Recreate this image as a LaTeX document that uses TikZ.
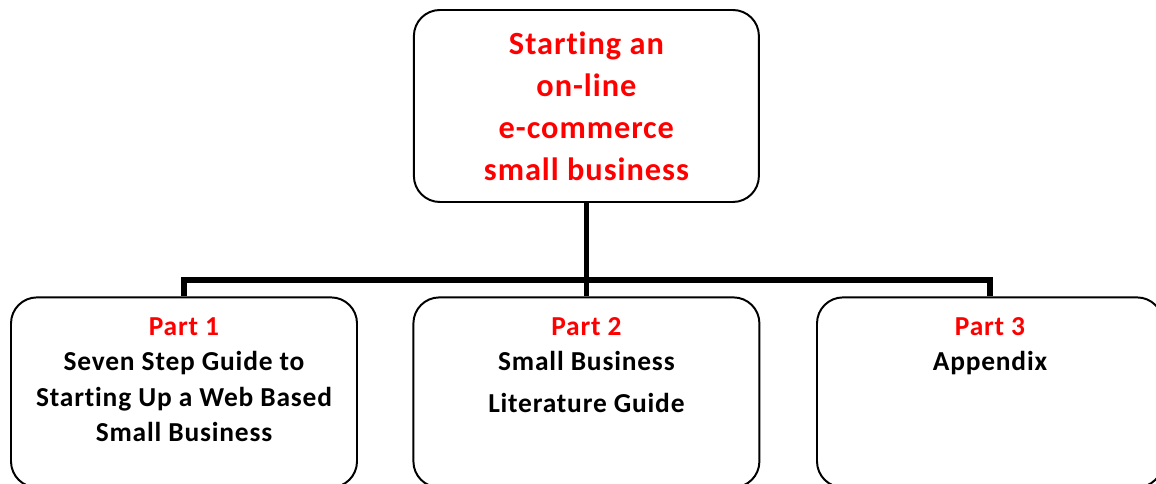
\documentclass[tikz,border=0pt]{standalone}
\usepackage{fontspec}
\setmainfont{Carlito}[Ligatures=NoCommon, LetterSpace=3]
\usetikzlibrary{positioning}

\begin{document}
\begin{tikzpicture}[
		box/.style={draw, line width=1.4pt, rounded corners=0.65cm, minimum width=8.65cm, minimum height=4.75cm},
		parttext/.style={align=center, font=\fontsize{19.5}{25.2}\selectfont\bfseries},
		conn/.style={line width=3.6pt, black}]
	\useasboundingbox (0,0) rectangle (28.9,12.1);
	\clip (0,0) rectangle (28.9,12.1);
	% Title
	\node[box, minimum width=8.625cm, minimum height=4.8cm, align=center, text=red,
		font=\fontsize{23}{29.9}\selectfont\bfseries] (title) at (14.66,9.45)
		{Starting an\\on-line\\e-commerce\\small business};
	% Parts
	\node[box] (part1) at (4.6,2.29) {};
	\node[box] (part2) at (14.66,2.29) {};
	\node[box] (part3) at (24.75,2.29) {};
	\node[parttext, below=0.4cm of part1.north] (text1)
		{\textcolor{red}{Part 1}\\Seven Step Guide to\\Starting Up a Web Based\\Small Business};
	\node[parttext, below=0.4cm of part2.north] (text2)
		{\textcolor{red}{Part 2}\\Small Business\\[4.5pt]Literature Guide};
	\node[parttext, below=0.4cm of part3.north] (text3)
		{\textcolor{red}{Part 3}\\Appendix};
	% Connectors
	\coordinate (bus) at (0,5.1);
	\draw[conn] (title.south) -- (title.south |- bus);
	\draw[conn] (part1.north) -- (part1.north |- bus) -- (part3.north |- bus) -- (part3.north);
	\draw[conn] (part2.north) -- (part2.north |- bus);
\end{tikzpicture}
\end{document}
